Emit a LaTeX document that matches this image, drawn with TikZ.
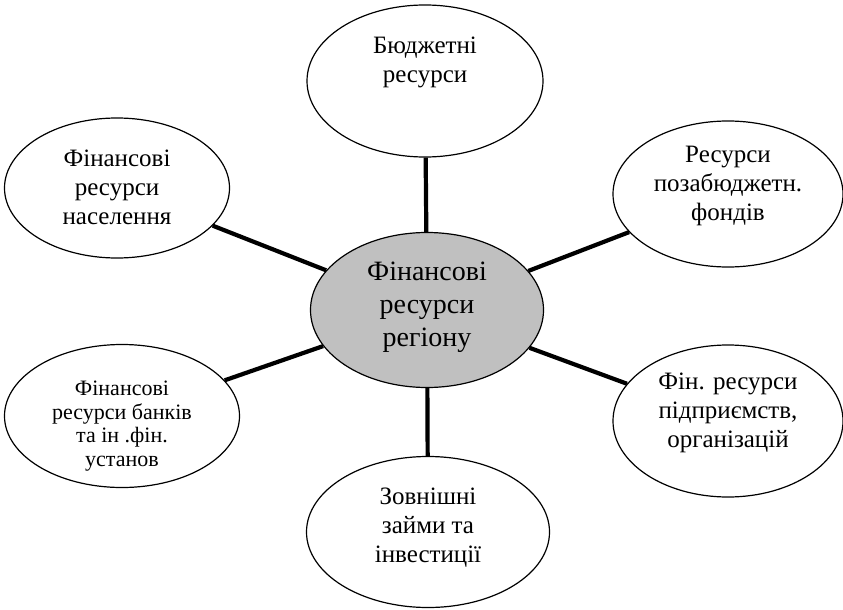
\documentclass[tikz,border=0pt]{standalone}
\usepackage{fontspec}
\setmainfont{Liberation Serif}
\usetikzlibrary{shapes.geometric}
\definecolor{hubgray}{RGB}{192,192,192}
\begin{document}
\begin{tikzpicture}[x=1pt,y=-1pt, line join=round,
  res/.style={ellipse,draw,line width=1.2pt,fill=white,inner sep=0pt},
  txt/.style={align=center,font=\fontsize{25}{29}\selectfont},
  link/.style={line width=4.2pt}]
\useasboundingbox (0,0) rectangle (843,610);
% еліпси
\node[res,fill=hubgray,minimum width=233pt,minimum height=155pt] (hub) at (427,310) {};
\node[res,minimum width=236pt,minimum height=152pt] (budget) at (425,81) {};
\node[res,minimum width=230pt,minimum height=146pt] (extra) at (728,194) {};
\node[res,minimum width=225pt,minimum height=140pt] (people) at (117,188) {};
\node[res,minimum width=235pt,minimum height=143pt] (banks) at (122,416) {};
\node[res,minimum width=230pt,minimum height=152pt] (firms) at (728,421) {};
\node[res,minimum width=243pt,minimum height=151pt] (loans) at (428,532) {};
% зв'язки
\draw[link] (hub) -- (budget);
\draw[link] (hub) -- (extra);
\draw[link] (hub) -- (people);
\draw[link] (hub) -- (banks);
\draw[link] (hub) -- (firms);
\draw[link] (hub) -- (loans);
% тексти
\node[txt,font=\fontsize{28}{33}\selectfont] at ([yshift=3pt]hub.center) {Фінансові\\ресурси\\регіону};
\node[txt] at ([yshift=19pt]budget.center) {Бюджетні\\ресурси};
\node[txt] at ([yshift=8pt]extra.center) {Ресурси\\позабюджетн.\\фондів};
\node[txt] at ([yshift=1pt]people.center) {Фінансові\\ресурси\\населення};
\node[txt,font=\fontsize{22}{23.5}\selectfont] at ([yshift=-10pt]banks.center) {Фінансові\\ресурси банків\\та ін .фін.\\установ};
\node[txt] at ([yshift=8pt]firms.center) {Фін. ресурси\\підприємств,\\організацій};
\node[txt] at ([yshift=4pt]loans.center) {Зовнішні\\займи та\\інвестиції};
\end{tikzpicture}
\end{document}
